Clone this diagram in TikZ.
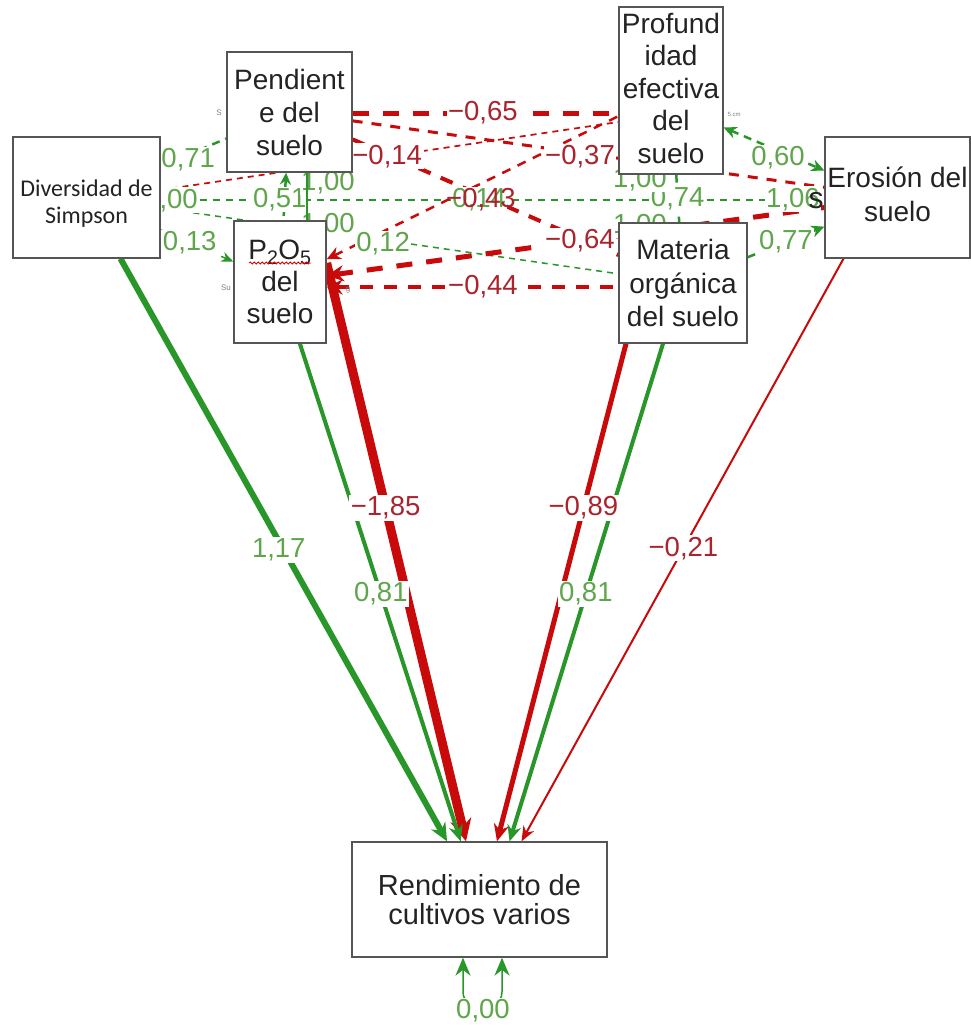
\documentclass[tikz,border=0pt]{standalone}
\usepackage{fontspec}
\setmainfont{Liberation Sans}
\newfontfamily\carlitofont{Carlito}
\usetikzlibrary{arrows.meta,decorations.pathmorphing}
\pgfdeclarelayer{edgelayer}
\pgfdeclarelayer{labellayer}
\pgfsetlayers{edgelayer,labellayer,main}
\definecolor{lgreen}{RGB}{40,150,40}
\definecolor{tgreen}{RGB}{95,165,75}
\definecolor{lred}{RGB}{200,10,10}
\definecolor{tred}{RGB}{170,35,45}
\definecolor{boxgray}{RGB}{85,85,85}
\definecolor{txtgray}{RGB}{35,35,35}
\begin{document}
\begin{tikzpicture}[x=1pt,y=-1pt,
  boxn/.style={draw=boxgray,line width=1.3pt,fill=white,inner sep=0pt,align=center,text=txtgray},
  fa/.style={font=\fontsize{28}{#1}\selectfont},
  lab/.style={font=\fontsize{27.5}{30}\selectfont,inner sep=1.5pt},
  gl/.style={lab,text=tgreen,fill=white},
  rl/.style={lab,text=tred,fill=white},
  gv/.style={lab,text=tgreen,fill=white,anchor=base},
  tinyt/.style={font=\fontsize{8}{8}\selectfont,text=gray,inner sep=0pt},
  gcov/.style={draw=lgreen},
  rcov/.style={draw=lred},
  reg/.style={line cap=butt}
]
\useasboundingbox (0,0) rectangle (971,1026);

% ---------- boxes ----------
\node[boxn,minimum width=147pt,minimum height=121pt,text height=56pt,
      font=\carlitofont\fontsize{24}{27}\selectfont] (div) at (86.5,197.5) {Diversidad de\\Simpson};
\node[boxn,fa=33,minimum width=125pt,minimum height=120pt] (pend) at (289.5,112) {Pendient\\e del\\suelo};
\node[boxn,fa=32,minimum width=92pt,minimum height=122pt] (p2o5) at (280,282) {P\textsubscript{2}O\textsubscript{5}\\del\\suelo};
\node[boxn,fa=32.5,minimum width=104pt,minimum height=167pt,text depth=5pt] (prof) at (671,90.5) {Profund\\idad\\efectiva\\del\\suelo};
\node[boxn,fa=33.5,minimum width=128pt,minimum height=120pt] (mat) at (683,283) {Materia\\orgánica\\del suelo};
\node[boxn,fa=34,minimum width=145pt,minimum height=121pt,text depth=6pt] (eros) at (897.5,197.5) {Erosión del\\suelo};
\node[boxn,font=\fontsize{29}{29}\selectfont,minimum width=255pt,minimum height=115pt] (rend) at (479.5,899.5) {Rendimiento de\\cultivos varios};
\draw[red!85!black,line width=0.8pt,decorate,decoration={snake,amplitude=1pt,segment length=4pt}]
  ([xshift=-31pt,yshift=19pt]p2o5.center) -- ([xshift=31pt,yshift=19pt]p2o5.center);

% ---------- edges ----------
\begin{pgfonlayer}{edgelayer}
\fill[white] (0,0) rectangle (971,1026);
% regressions
\draw[reg,lgreen,line width=6pt,-{Stealth[length=18pt,width=16pt]}] (div) -- (rend);
\draw[reg,lred,line width=9pt,-{Stealth[length=22pt,width=21pt]}] ([yshift=19pt]p2o5.east) -- ([xshift=-13.5pt]rend.north);
\draw[reg,lgreen,line width=4pt,-{Stealth[length=16pt,width=14pt]}] (p2o5) -- (rend);
\draw[reg,lred,line width=5pt,-{Stealth[length=17pt,width=15pt]}] ([xshift=-57pt]mat.south) -- ([xshift=17.5pt]rend.north);
\draw[reg,lgreen,line width=4pt,-{Stealth[length=16pt,width=14pt]}] ([xshift=-20pt]mat.south) -- ([xshift=30pt]rend.north);
\draw[reg,lred,line width=2pt,-{Stealth[length=15pt,width=12pt]}] ([xshift=-54pt]eros.south) -- ([xshift=42pt]rend.north);
% residual
\draw[lgreen,line width=1.5pt,{Stealth[length=18pt,width=15pt]}-{Stealth[length=18pt,width=15pt]}]
  ([xshift=-16.5pt]rend.south) -- ++(0,34) .. controls +(0,22) and +(0,22) .. ([xshift=22.5pt,yshift=-34pt]rend.south) -- ([xshift=22.5pt]rend.south);
% covariances
\draw[gcov,line width=2.5pt,dash pattern=on 8pt off 6pt] (div) -- (pend);
\draw[gcov,line width=1.5pt,dash pattern=on 6pt off 5pt,-{Stealth[length=12pt,width=10pt]}] (div) -- (p2o5);
\draw[rcov,line width=1.7pt,dash pattern=on 6pt off 5pt] ([yshift=7.5pt]div.east) -- ([yshift=-31.5pt]prof.west);
\draw[gcov,line width=1.5pt,dash pattern=on 6pt off 5pt] (div) -- (mat);
\draw[gcov,line width=2pt,dash pattern=on 7pt off 6pt] ([yshift=-2.5pt]div.east) -- ([yshift=-2.5pt]eros.west);
\draw[gcov,line width=2.5pt,dash pattern=on 8pt off 6pt,{Stealth[length=12pt,width=11pt]}-] (pend) -- (p2o5);
\draw[rcov,line width=5pt,dash pattern=on 16pt off 14pt] ([yshift=-1pt]pend.east) -- ([yshift=-22.5pt]prof.west);
\draw[rcov,line width=4pt,dash pattern=on 13pt off 11pt] (pend) -- (mat);
\draw[rcov,line width=2.5pt,dash pattern=on 9pt off 8pt,{Stealth[length=14pt,width=13pt]}-] (p2o5) -- (prof);
\draw[rcov,line width=4pt,dash pattern=on 13pt off 11pt,{Stealth[length=16pt,width=15pt]}-] ([yshift=-5pt]p2o5.east) -- ([yshift=-4pt]mat.west);
\draw[rcov,line width=5pt,dash pattern=on 16pt off 14pt,{Stealth[length=17pt,width=16pt]}-] (p2o5) -- (eros);
\draw[gcov,line width=2.5pt,dash pattern=on 8pt off 6pt] (prof) -- (mat);
\draw[gcov,line width=2.5pt,dash pattern=on 8pt off 6pt,{Stealth[length=13pt,width=12pt]}-{Stealth[length=13pt,width=12pt]}] ([yshift=-37pt]prof.east) -- ([yshift=27pt]eros.west);
\draw[gcov,line width=2.5pt,dash pattern=on 8pt off 6pt,-{Stealth[length=13pt,width=12pt]}] (mat) -- (eros);
\draw[rcov,line width=3pt,dash pattern=on 10pt off 9pt] (pend) -- (eros);
\end{pgfonlayer}

% ---------- labels ----------
\begin{pgfonlayer}{labellayer}
\path (div) -- (rend) node[gl,pos=0.5,xshift=-5pt] (l117) {1,17};
\path ([yshift=19pt]p2o5.east) -- ([xshift=-13.5pt]rend.north) node[rl,pos=0.423] (l185) {−1,85};
\path (p2o5) -- (rend) node[gl,pos=0.503] (l081a) {0,81};
\path ([xshift=-57pt]mat.south) -- ([xshift=17.5pt]rend.north) node[rl,pos=0.33] (l089) {−0,89};
\path ([xshift=-20pt]mat.south) -- ([xshift=30pt]rend.north) node[gl,pos=0.503] (l081b) {0,81};
\path ([xshift=-54pt]eros.south) -- ([xshift=42pt]rend.north) node[rl,pos=0.497] (l021) {−0,21};
\node[gl] (l000) at ([xshift=3.5pt,yshift=-53pt]rend.south) {0,00};

\path (div) -- (pend) node[gl,pos=0.42,yshift=-5pt] (l071) {0,71};
\path (div) -- (p2o5) node[gl,pos=0.4] (l013) {0,13};
\path ([yshift=7.5pt]div.east) -- ([yshift=-31.5pt]prof.west) node[rl,pos=0.495] (l014r) {−0,14};
\path (div) -- (mat) node[gl,pos=0.486,yshift=-4pt] (l012) {0,12};
\path (pend) -- (p2o5) node[gl,pos=0.5,xshift=-5pt,yshift=-3pt] (l051) {0,51};
\path ([yshift=-1pt]pend.east) -- ([yshift=-22.5pt]prof.west) node[rl,pos=0.49] (l065) {−0,65};
\path (pend) -- (eros) node[rl,pos=0.482,yshift=-4pt] (l037) {−0,37};
\path ([yshift=-5pt]p2o5.east) -- ([yshift=-4pt]mat.west) node[rl,pos=0.536] (l044) {−0,44};
\path (p2o5) -- (eros) node[rl,pos=0.509] (l064) {−0,64};
\path (prof) -- (mat) node[gl,pos=0.5] (l074) {0,74};
\path ([yshift=-37pt]prof.east) -- ([yshift=27pt]eros.west) node[gl,pos=0.54,yshift=-7pt] (l060) {0,60};
\path (mat) -- (eros) node[gl,pos=0.5] (l077) {0,77};
\path ([yshift=-2.5pt]div.east) -- ([yshift=-2.5pt]eros.west) node[gl,pos=0.48] (l014g) {0,14};
\path (pend) -- (mat) node[lab,text=tred,pos=0.483,yshift=-4.7pt] (l043) {−0,43};

% variances
\node[gv] (vdiv) at (171,208) {1,00};
\node[gv] (vpend) at (328,190) {1,00};
\node[gv] (vp2o5) at (328,232) {1,00};
\node[gv] (vprof) at (640,187) {1,00};
\node[gv] (vmat) at (640,233) {1,00};
\node[gv] (veros) at (793,207) {1,06};
\node[font=\fontsize{30}{30}\selectfont,text=txtgray,inner sep=0pt,anchor=base] (ts) at (816,208) {s};
\draw[lgreen,line width=2pt] ([xshift=17.5pt]pend.south) -- ([xshift=27pt]p2o5.north);

% small fragments
\node[tinyt] (f1) at (219,113) {S};
\node[tinyt] (f2) at (226,288) {Su};
\node[tinyt] (f3) at (348,290) {g};
\node[tinyt,font=\fontsize{6}{6}\selectfont] (f4) at (734,114) {5.cm};
\end{pgfonlayer}
\end{tikzpicture}
\end{document}
